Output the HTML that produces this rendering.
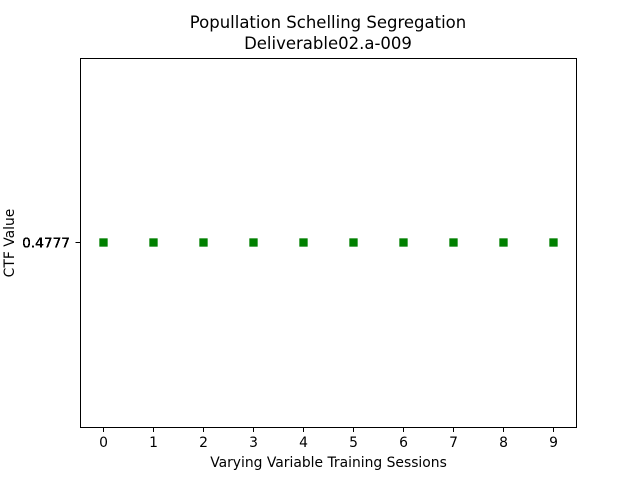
<!DOCTYPE html>
<html>
<head>
<meta charset="utf-8">
<style>
html,body{margin:0;padding:0;background:#fff;width:640px;height:480px;overflow:hidden}
svg{display:block}
text{font-family:"DejaVu Sans","Liberation Sans",sans-serif;fill:#000}
</style>
</head>
<body>
<svg id="chart" width="640" height="480" viewBox="0 0 640 480" xmlns="http://www.w3.org/2000/svg">
  <rect width="640" height="480" fill="#fff"/>
  <text x="328" y="28" font-size="16.5" text-anchor="middle">Popullation Schelling Segregation</text>
  <text x="328" y="49" font-size="16.5" text-anchor="middle">Deliverable02.a-009</text>
  <text x="328.5" y="467" font-size="13.89" text-anchor="middle">Varying Variable Training Sessions</text>
  <text transform="translate(14 243) rotate(-90)" font-size="13.89" text-anchor="middle">CTF Value</text>
  <g id="marks"></g>
  <g id="xticks"></g>
  <g id="yticks"></g>
  <rect x="80.5" y="58.5" width="496" height="369" fill="none" stroke="#000" stroke-width="1"/>
</svg>
<script>
const categories = [0, 1, 2, 3, 4, 5, 6, 7, 8, 9];
const ctfValues = [0.4777, 0.4777, 0.4777, 0.4777, 0.4777, 0.4777, 0.4777, 0.4777, 0.4777, 0.4777];
const xTickLabels = ['0', '1', '2', '3', '4', '5', '6', '7', '8', '9'];
const yTickLabels = ['0.4777', '0.4777', '0.4777', '0.4777', '0.4777', '0.4777', '0.4777', '0.4777', '0.4777', '0.4777'];

const NS = 'http://www.w3.org/2000/svg';
const plot = { left: 80, right: 576, top: 57.6, bottom: 427.2 };

function xScale(v) {
  const lo = Math.min(...categories), hi = Math.max(...categories);
  const pad = (hi - lo) * 0.05 || 0.5;
  return plot.left + (v - (lo - pad)) / ((hi + pad) - (lo - pad)) * (plot.right - plot.left);
}
function yScale(v) {
  const lo = Math.min(...ctfValues), hi = Math.max(...ctfValues);
  const pad = (hi - lo) * 0.05 || 0.05;
  return plot.bottom - (v - (lo - pad)) / ((hi + pad) - (lo - pad)) * (plot.bottom - plot.top);
}
function snap(p) {
  return Math.round(p) + 0.5;
}
function make(tag, attrs, parent) {
  const el = document.createElementNS(NS, tag);
  for (const k in attrs) el.setAttribute(k, attrs[k]);
  parent.appendChild(el);
  return el;
}

const marks = document.getElementById('marks');
const xticks = document.getElementById('xticks');
const yticks = document.getElementById('yticks');

categories.forEach(function (c, i) {
  const cx = snap(xScale(c)), cy = snap(yScale(ctfValues[i]));
  const m = make('rect', { x: cx - 4.17, y: cy - 4.17, width: 8.33, height: 8.33, fill: '#008000' }, marks);
  
  

  const t = make('line', { x1: cx, x2: cx, y1: 427.5, y2: 432, stroke: '#000', 'stroke-width': 1 }, xticks);
  
  

  const l = make('text', { x: cx, y: 447, 'font-size': 13.89, 'text-anchor': 'middle' }, xticks);
  l.textContent = xTickLabels[i];
  
  
});

ctfValues.forEach(function (v, i) {
  const cy = snap(yScale(v));
  const t = make('line', { x1: 75.5, x2: 80.5, y1: cy, y2: cy, stroke: '#000', 'stroke-width': 1 }, yticks);
  
  

  const l = make('text', { x: 70, y: cy + 5, 'font-size': 13.7, 'text-anchor': 'end' }, yticks);
  l.textContent = yTickLabels[i];
  
  
});
</script>
</body>
</html>
